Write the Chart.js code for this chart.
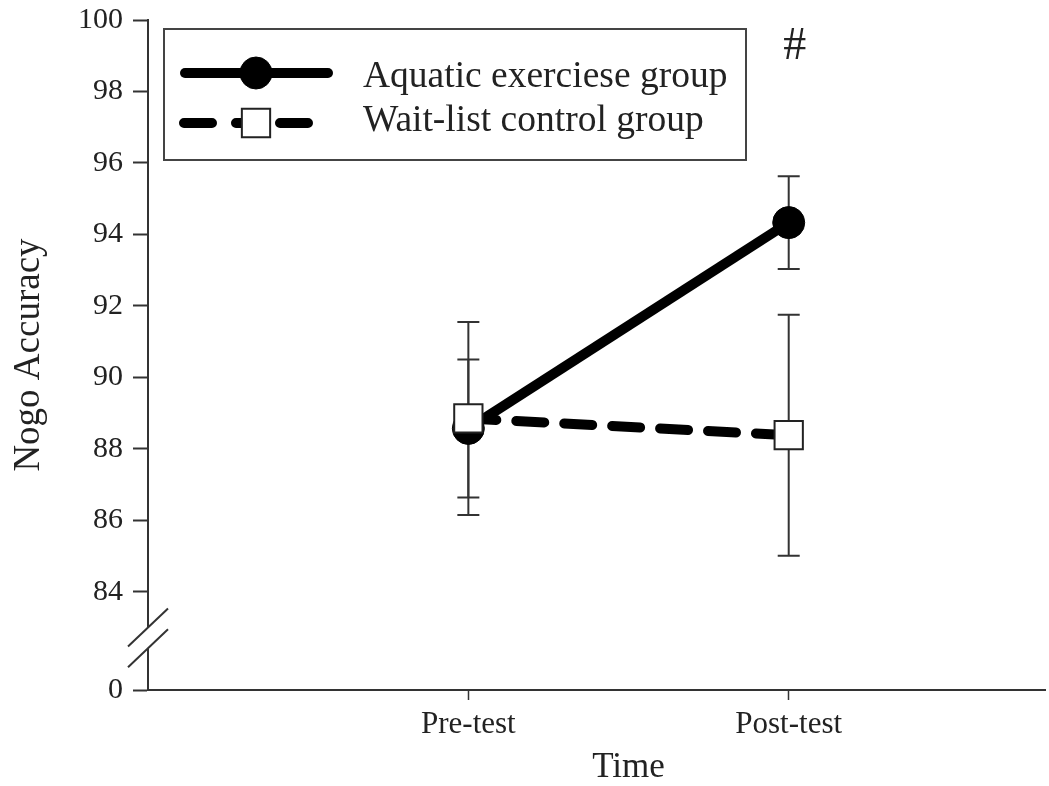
<!DOCTYPE html>
<html>
<head>
<meta charset="utf-8">
<script src="https://cdn.jsdelivr.net/npm/chart.js@4.4.0/dist/chart.umd.min.js"></script>
<style>
  html, body { margin: 0; padding: 0; background: #fff; overflow: hidden; }
  canvas { display: block; }
</style>
</head>
<body>
<canvas id="chart" width="1049" height="786"></canvas>
<script>
const timeLabels = ['Pre-test', 'Post-test'];
const timePos = [1, 2];

const aquaticMean = [88.57, 94.33];
const aquaticErr = [1.93, 1.30];
const waitMean = [88.85, 88.38];
const waitErr = [2.70, 3.37];

const yTickValues = [84, 86, 88, 90, 92, 94, 96, 98, 100];
const yBase = 81.25;       // bottom of the broken axis
const yBaseLabel = '0';
const yBreak = [83.0, 82.42];

const SERIF = "'Liberation Serif', 'Times New Roman', serif";
const INK = '#222';
const AXIS = '#333';

function toPoints(means) {
    return means.map((m, i) => ({ x: timePos[i], y: m }));
}

// vertical error bars under the markers
const errorBars = {
    id: 'errorBars',
    beforeDatasetsDraw(chart) {
        const { ctx, scales: { x, y } } = chart;
        ctx.save();
        ctx.strokeStyle = AXIS;
        ctx.lineWidth = 2;
        chart.data.datasets.forEach(ds => {
            ds.data.forEach((p, i) => {
                const px = x.getPixelForValue(p.x);
                const top = y.getPixelForValue(p.y + ds.err[i]);
                const bot = y.getPixelForValue(p.y - ds.err[i]);
                ctx.beginPath();
                ctx.moveTo(px, top); ctx.lineTo(px, bot);
                ctx.moveTo(px - 11, top); ctx.lineTo(px + 11, top);
                ctx.moveTo(px - 11, bot); ctx.lineTo(px + 11, bot);
                ctx.stroke();
            });
        });
        ctx.restore();
    }
};

// axis break marks, boxed legend, x title and the # note
const extras = {
    id: 'extras',
    afterDraw(chart) {
        const { ctx, scales: { x, y } } = chart;
        ctx.save();

        const ax = y.right;
        const b1 = y.getPixelForValue(yBreak[0]);
        const b2 = y.getPixelForValue(yBreak[1]);
        ctx.fillStyle = '#fff';
        ctx.fillRect(ax - 3, b1, 6, b2 - b1);
        ctx.strokeStyle = AXIS;
        ctx.lineWidth = 2;
        [b1, b2].forEach(by => {
            ctx.beginPath();
            ctx.moveTo(ax - 20, by + 19);
            ctx.lineTo(ax + 20, by - 19);
            ctx.stroke();
        });

        // legend
        ctx.lineWidth = 2;
        ctx.strokeStyle = '#444';
        ctx.strokeRect(164, 29, 582, 131);
        const rows = [73, 123];
        const baselines = [86.5, 130.5];
        chart.data.datasets.forEach((ds, i) => {
            const ry = rows[i];
            ctx.save();
            ctx.strokeStyle = ds.borderColor;
            ctx.lineWidth = ds.borderWidth;
            ctx.lineCap = 'round';
            ctx.beginPath();
            if (ds.borderDash) {
                ctx.moveTo(184, ry); ctx.lineTo(212, ry);
                ctx.moveTo(236, ry); ctx.lineTo(250, ry);
                ctx.moveTo(280, ry); ctx.lineTo(308, ry);
            } else {
                ctx.moveTo(185, ry); ctx.lineTo(328, ry);
            }
            ctx.stroke();
            ctx.restore();
            ctx.save();
            ctx.fillStyle = ds.pointBackgroundColor;
            ctx.strokeStyle = ds.pointBorderColor;
            ctx.lineWidth = ds.pointBorderWidth;
            Chart.helpers.drawPoint(ctx, {
                pointStyle: ds.pointStyle, radius: ds.pointRadius, borderWidth: ds.pointBorderWidth
            }, 256, ry);
            ctx.restore();
            ctx.fillStyle = INK;
            ctx.font = '37.5px ' + SERIF;
            ctx.textBaseline = 'alphabetic';
            ctx.fillText(ds.label, 363, baselines[i]);
        });

        ctx.fillStyle = INK;
        ctx.textAlign = 'center';
        ctx.textBaseline = 'middle';
        ctx.font = '46px ' + SERIF;
        ctx.fillText('#', x.getPixelForValue(timePos[1]) + 6, 47);

        // x title sits centred between the two time points
        ctx.font = '35px ' + SERIF;
        const mid = (x.getPixelForValue(timePos[0]) + x.getPixelForValue(timePos[1])) / 2;
        ctx.fillText('Time', mid, 768);
        ctx.restore();
    }
};

new Chart(document.getElementById('chart'), {
    type: 'line',
    data: {
        datasets: [
            {
                label: 'Aquatic exerciese group',
                data: toPoints(aquaticMean),
                err: aquaticErr,
                borderColor: '#000',
                borderWidth: 10,
                pointStyle: 'circle',
                pointRadius: 16,
                pointBackgroundColor: '#000',
                pointBorderColor: '#000',
                pointBorderWidth: 1,
                order: 1
            },
            {
                label: 'Wait-list control group',
                data: toPoints(waitMean),
                err: waitErr,
                borderColor: '#000',
                borderWidth: 10,
                borderDash: [28, 20],
                borderCapStyle: 'round',
                pointStyle: 'rect',
                pointRadius: 20,
                pointBackgroundColor: '#fff',
                pointBorderColor: '#222',
                pointBorderWidth: 2,
                order: 0
            }
        ]
    },
    options: {
        responsive: false,
        animation: false,
        layout: { autoPadding: false, padding: { top: 20, right: 4, left: 0, bottom: 0 } },
        plugins: {
            legend: { display: false },
            tooltip: { enabled: false }
        },
        scales: {
            x: {
                type: 'linear',
                min: 0,
                max: 2.8,
                afterBuildTicks: s => { s.ticks = timePos.map(v => ({ value: v })); },
                afterFit: s => { s.height = 96; s.paddingLeft = 0; s.paddingRight = 0; },
                ticks: {
                    callback: v => timeLabels[timePos.indexOf(v)],
                    color: INK,
                    font: { family: SERIF, size: 31 },
                    padding: 6,
                    maxRotation: 0
                },
                grid: { drawOnChartArea: false, tickLength: 10, tickColor: AXIS, tickWidth: 1.5 },
                border: { color: AXIS, width: 2 }
            },
            y: {
                min: yBase,
                max: 100,
                afterBuildTicks: s => { s.ticks = [yBase].concat(yTickValues).map(v => ({ value: v })); },
                afterFit: s => { s.width = 148; s.paddingTop = 0; s.paddingBottom = 0; },
                ticks: {
                    callback: v => v === yBase ? yBaseLabel : String(v),
                    color: INK,
                    font: { family: SERIF, size: 30 },
                    padding: 10
                },
                grid: { drawOnChartArea: false, tickLength: 15, tickColor: AXIS, tickWidth: 2 },
                border: { color: AXIS, width: 2 },
                title: {
                    display: true, text: 'Nogo Accuracy', color: INK,
                    font: { family: SERIF, size: 37 }, padding: { top: 7, bottom: 0 }
                }
            }
        }
    },
    plugins: [errorBars, extras]
});
</script>
</body>
</html>
